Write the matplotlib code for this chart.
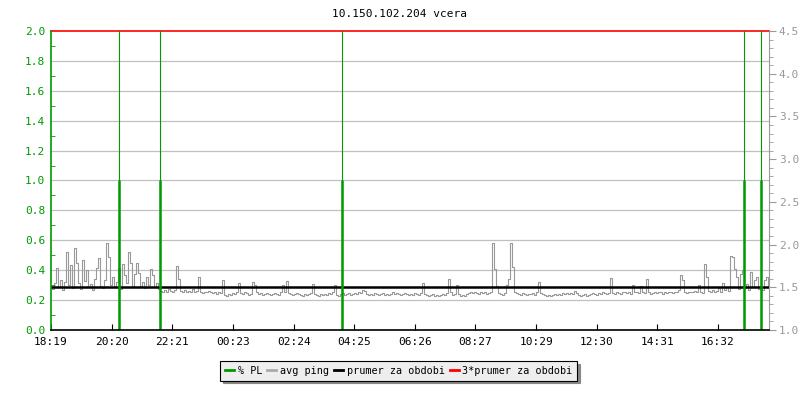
import matplotlib
matplotlib.use("Agg")
import matplotlib.pyplot as plt
from matplotlib.lines import Line2D
from matplotlib.ticker import MultipleLocator, FormatStrFormatter

title = "10.150.102.204 vcera"
tick_labels = ["18:19", "20:20", "22:21", "00:23", "02:24", "04:25",
               "06:26", "08:27", "10:29", "12:30", "14:31", "16:32"]
span_min = 1435          # minutes shown on the x axis
sample_step = 4          # minutes between ping samples

# avg ping [ms], one value every 4 minutes from 18:19
ping = [
    1.52, 1.48, 1.55, 1.73, 1.50, 1.58, 1.47, 1.56, 1.91, 1.53, 1.76, 1.49, 1.96, 1.79, 1.55, 1.48, 1.82, 1.57, 1.70, 1.50,
    1.54, 1.47, 1.60, 1.73, 1.84, 1.52, 1.49, 1.58, 2.02, 1.86, 1.53, 1.62, 1.50, 1.56, 1.73, 1.48, 1.77, 1.64, 1.55, 1.91,
    1.78, 1.52, 1.65, 1.78, 1.67, 1.51, 1.56, 1.49, 1.62, 1.53, 1.71, 1.64, 1.50, 1.55, 1.48, 1.46, 1.44, 1.47, 1.45, 1.48,
    1.46, 1.45, 1.47, 1.75, 1.60, 1.46, 1.45, 1.47, 1.44, 1.46, 1.45, 1.48, 1.44, 1.46, 1.62, 1.45, 1.43, 1.45, 1.44, 1.46,
    1.44, 1.43, 1.45, 1.42, 1.44, 1.43, 1.58, 1.41, 1.40, 1.42, 1.41, 1.43, 1.42, 1.44, 1.55, 1.43, 1.42, 1.44, 1.43, 1.41,
    1.42, 1.56, 1.53, 1.44, 1.42, 1.43, 1.41, 1.42, 1.43, 1.42, 1.41, 1.42, 1.43, 1.42, 1.41, 1.44, 1.53, 1.45, 1.57, 1.43,
    1.42, 1.41, 1.42, 1.43, 1.42, 1.41, 1.40, 1.42, 1.41, 1.42, 1.43, 1.54, 1.42, 1.41, 1.40, 1.42, 1.41, 1.42, 1.41, 1.43,
    1.42, 1.45, 1.53, 1.41, 1.40, 1.42, 1.43, 1.41, 1.42, 1.43, 1.41, 1.42, 1.43, 1.42, 1.44, 1.43, 1.47, 1.46, 1.42, 1.41,
    1.42, 1.41, 1.43, 1.42, 1.41, 1.42, 1.43, 1.41, 1.42, 1.41, 1.42, 1.44, 1.42, 1.43, 1.42, 1.41, 1.42, 1.43, 1.42, 1.41,
    1.42, 1.41, 1.43, 1.42, 1.41, 1.43, 1.55, 1.42, 1.41, 1.40, 1.41, 1.42, 1.40, 1.41, 1.40, 1.41, 1.42, 1.41, 1.43, 1.60,
    1.44, 1.41, 1.42, 1.53, 1.42, 1.40, 1.41, 1.40, 1.42, 1.43, 1.44, 1.43, 1.44, 1.43, 1.42, 1.44, 1.43, 1.44, 1.42, 1.43,
    1.44, 2.02, 1.71, 1.52, 1.43, 1.42, 1.41, 1.43, 1.53, 1.60, 2.02, 1.74, 1.45, 1.43, 1.42, 1.41, 1.43, 1.42, 1.41, 1.42,
    1.42, 1.43, 1.41, 1.44, 1.56, 1.43, 1.42, 1.41, 1.40, 1.41, 1.40, 1.41, 1.42, 1.41, 1.42, 1.41, 1.43, 1.42, 1.43, 1.42,
    1.43, 1.42, 1.46, 1.43, 1.41, 1.40, 1.41, 1.42, 1.40, 1.41, 1.42, 1.43, 1.42, 1.41, 1.43, 1.42, 1.44, 1.43, 1.42, 1.43,
    1.61, 1.43, 1.42, 1.44, 1.43, 1.42, 1.44, 1.45, 1.43, 1.44, 1.42, 1.53, 1.44, 1.45, 1.43, 1.52, 1.44, 1.43, 1.60, 1.44,
    1.42, 1.43, 1.44, 1.43, 1.45, 1.44, 1.42, 1.44, 1.43, 1.45, 1.44, 1.43, 1.45, 1.44, 1.47, 1.64, 1.58, 1.45, 1.43, 1.44,
    1.45, 1.44, 1.46, 1.44, 1.53, 1.45, 1.43, 1.77, 1.62, 1.46, 1.44, 1.47, 1.45, 1.46, 1.49, 1.45, 1.55, 1.47, 1.50, 1.46,
    1.87, 1.86, 1.71, 1.62, 1.48, 1.66, 1.70, 1.49, 1.54, 1.47, 1.68, 1.50, 1.58, 1.62, 1.48, 1.52, 1.47, 1.58, 1.62, 1.50,
]
ping_mean = 1.5

# packet loss events [minutes from start] and their value [%]
pl_times = [135, 218, 581, 1385, 1420]
pl_values = [1.0, 1.0, 1.0, 1.0, 1.0]

green = "#009900"
grey = "#999999"
font = "DejaVu Sans Mono"

plt.rcParams["font.family"] = font
plt.rcParams["font.size"] = 8

fig = plt.figure(figsize=(8, 4), dpi=100)
ax = fig.add_axes([0.06375, 0.175, 0.8975, 0.7475])
ax2 = ax.twinx()
ax.set_zorder(ax2.get_zorder() + 1)
ax.patch.set_visible(False)

# ping on the right axis
t = [i * sample_step for i in range(len(ping))]
ax2.plot(t, ping, color=grey, lw=0.8, drawstyle="steps-mid")
ax2.axhline(ping_mean, color="black", lw=1.8)
ax2.axhline(3 * ping_mean, color="red", lw=1.2, clip_on=False)
ax2.set_ylim(1.0, 4.5)

# packet loss on the left axis
ax.vlines(pl_times, 0, pl_values, color=green, lw=1.8)
for pt in pl_times:
    ax.axvline(pt, color=green, lw=0.8)
ax.set_ylim(0, 2.0)
ax.set_xlim(0, span_min)

for y in [0.2, 0.4, 0.6, 0.8, 1.0, 1.2, 1.4, 1.6, 1.8]:
    ax2.axhline(1.0 + y * 1.75, color="#c0c0c0", lw=0.9, zorder=0)

# x ticks from the labels
tick_pos = []
for lab in tick_labels:
    h, m = map(int, lab.split(":"))
    mins = (h * 60 + m) - (18 * 60 + 19)
    if mins < 0:
        mins += 24 * 60
    tick_pos.append(mins)
ax.set_xticks(tick_pos)
ax.set_xticklabels(tick_labels)
ax.tick_params(axis="x", direction="in", length=4, color="black", pad=5)

ax.yaxis.set_major_locator(MultipleLocator(0.2))
ax.yaxis.set_minor_locator(MultipleLocator(0.1))
ax.yaxis.set_major_formatter(FormatStrFormatter("%.1f"))
ax.tick_params(axis="y", which="both", direction="in", colors=green, length=3, pad=4)
ax.tick_params(axis="y", which="major", length=0)

ax2.yaxis.set_major_locator(MultipleLocator(0.5))
ax2.yaxis.set_minor_locator(MultipleLocator(0.1))
ax2.yaxis.set_major_formatter(FormatStrFormatter("%.1f"))
ax2.tick_params(axis="y", which="major", direction="out", colors=grey, length=5, pad=2)
ax2.tick_params(axis="y", which="minor", direction="out", colors=grey, length=3)

for a in (ax, ax2):
    a.spines["top"].set_visible(False)
ax.spines["left"].set_color(green)
ax.spines["left"].set_linewidth(1.2)
ax.spines["right"].set_visible(False)
ax2.spines["left"].set_visible(False)
ax2.spines["right"].set_color(grey)
ax2.spines["bottom"].set_visible(False)
ax.spines["bottom"].set_color("black")
ax.spines["bottom"].set_linewidth(1.2)

fig.text(0.5, 0.965, title, ha="center", va="center", fontsize=8)

handles = [
    Line2D([], [], color=green, lw=2),
    Line2D([], [], color="#aaaaaa", lw=2),
    Line2D([], [], color="black", lw=2),
    Line2D([], [], color="red", lw=2),
]
labels = ["% PL", "avg ping", "prumer za obdobi", "3*prumer za obdobi"]
leg = fig.legend(handles, labels, loc="center", bbox_to_anchor=(0.4985, 0.0725),
                 ncol=4, handlelength=0.9, handletextpad=0.35, columnspacing=0.5,
                 frameon=True, fancybox=False, shadow={"color": "#888888", "alpha": 1},
                 borderpad=0.45, fontsize=7.3)
leg.get_frame().set_edgecolor("black")
leg.get_frame().set_facecolor("#eeeeee")
leg.get_frame().set_linewidth(0.8)

fig.savefig("out.png", dpi=100)
